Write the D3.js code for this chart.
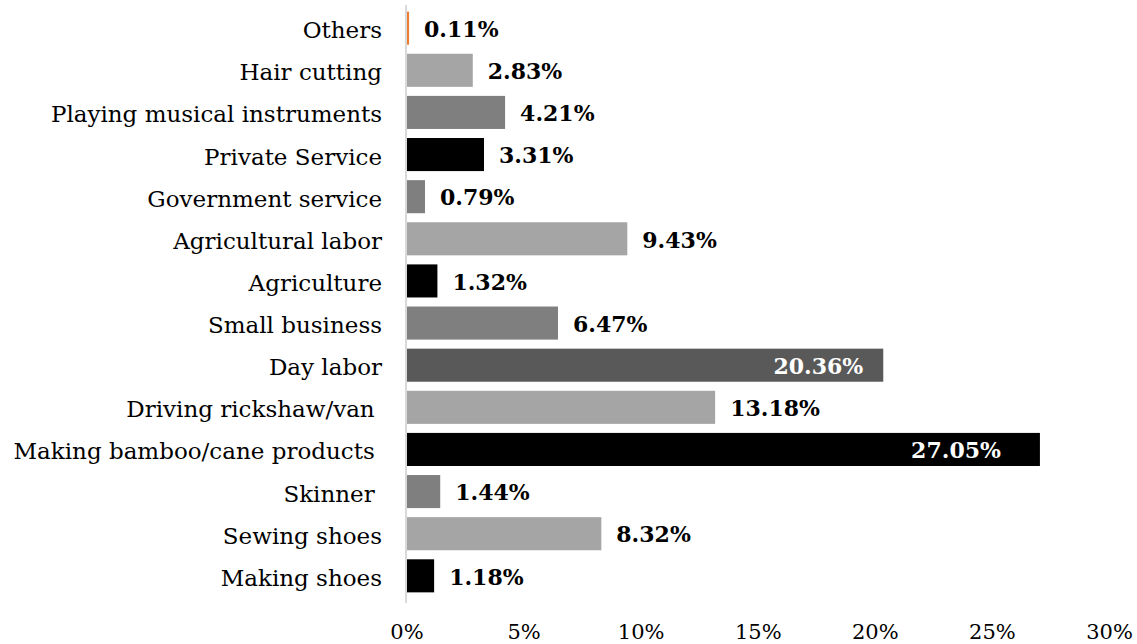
<!DOCTYPE html>
<html>
<head>
<meta charset="utf-8">
<script src="https://cdn.jsdelivr.net/npm/d3@7"></script>
<style>
  html, body { margin: 0; padding: 0; background: #fff; }
  svg text { font-family: "DejaVu Serif", Georgia, serif; }
</style>
</head>
<body>
<svg id="chart" width="1137" height="644"></svg>
<script>
// Occupation categories, top to bottom
const categories = [
  "Others",
  "Hair cutting",
  "Playing musical instruments",
  "Private Service",
  "Government service",
  "Agricultural labor",
  "Agriculture",
  "Small business",
  "Day labor",
  "Driving rickshaw/van ",
  "Making bamboo/cane products ",
  "Skinner ",
  "Sewing shoes",
  "Making shoes"
];
// Share of respondents (%)
const shares = [0.11, 2.83, 4.21, 3.31, 0.79, 9.43, 1.32, 6.47, 20.36, 13.18, 27.05, 1.44, 8.32, 1.18];
// Bar fills
const fills = ["#ed7d31", "#a5a5a5", "#7f7f7f", "#000000", "#7f7f7f", "#a5a5a5", "#000000",
               "#7f7f7f", "#595959", "#a5a5a5", "#000000", "#7f7f7f", "#a5a5a5", "#000000"];
// Axis ticks
const tickValues = [0, 5, 10, 15, 20, 25, 30];
// Labels drawn inside the bar end, with their inset in px
const insideInset = { "Day labor": 20, "Making bamboo/cane products ": 39 };

const svg = d3.select("#chart");
const x = d3.scaleLinear().domain([0, 30]).range([406.5, 1109]);
const y = d3.scaleBand().domain(categories).range([7, 597]).paddingInner(0.215).paddingOuter(0.11);

// bars
svg.append("g").selectAll("rect")
  .data(categories)
  .join("rect")
  .attr("x", x(0))
  .attr("y", d => y(d))
  .attr("width", (d, i) => Math.max(x(shares[i]) - x(0), 1.8))
  .attr("height", y.bandwidth())
  .attr("fill", (d, i) => fills[i]);

// vertical axis line
svg.append("line")
  .attr("x1", x(0) - 0.5).attr("x2", x(0) - 0.5)
  .attr("y1", 5).attr("y2", 603)
  .attr("stroke", "#d9d9d9").attr("stroke-width", 2);

// category labels
svg.append("g").selectAll("text")
  .data(categories)
  .join("text")
  .attr("x", 382)
  .attr("y", d => y(d) + y.bandwidth() / 2 + 2)
  .attr("dy", "0.35em")
  .attr("text-anchor", "end")
  .style("white-space", "pre")
  .attr("font-size", 23)
  .attr("fill", "#000")
  .text(d => d);

// value labels
svg.append("g").selectAll("text")
  .data(categories)
  .join("text")
  .attr("x", (d, i) => insideInset[d] !== undefined ? x(shares[i]) - insideInset[d] : x(shares[i]) + 15)
  .attr("y", d => y(d) + y.bandwidth() / 2 + 1)
  .attr("dy", "0.35em")
  .attr("text-anchor", d => insideInset[d] !== undefined ? "end" : "start")
  .attr("font-size", 22)
  .attr("font-weight", "bold")
  .attr("fill", d => insideInset[d] !== undefined ? "#fff" : "#000")
  .text((d, i) => shares[i].toFixed(2) + "%");

// x axis tick labels
const xAxis = d3.axisBottom(x).tickValues(tickValues).tickSize(0).tickFormat(d => d + "%");
const ax = svg.append("g").attr("transform", "translate(0,621)").call(xAxis);
ax.select(".domain").remove();
ax.selectAll("text").attr("font-size", 21).attr("fill", "#000")
  .style("font-family", "'DejaVu Serif', Georgia, serif");
</script>
</body>
</html>
